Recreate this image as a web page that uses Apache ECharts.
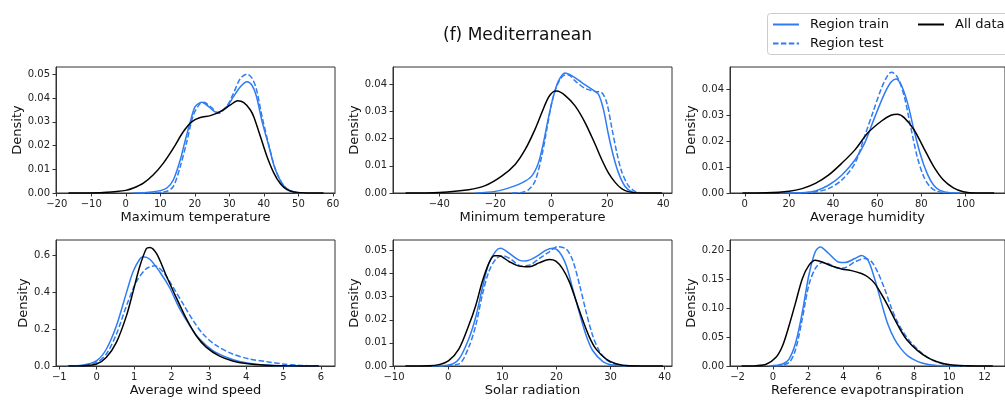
<!DOCTYPE html>
<html>
<head>
<meta charset="utf-8">
<script src="https://cdn.jsdelivr.net/npm/echarts@6/dist/echarts.min.js"></script>
<style>html,body{margin:0;padding:0;background:#fff}#c{width:1005px;height:401px}</style>
</head>
<body>
<div id="c"></div>
<script>
// ---------- DATA ----------
const chartTitle = '(f) Mediterranean';
const seriesNames = ['Region train', 'Region test', 'All data'];
const panelNames = ['Maximum temperature', 'Minimum temperature', 'Average humidity',
                    'Average wind speed', 'Solar radiation', 'Reference evapotranspiration'];

// x tick labels per panel
const xTicksMaxT = [-20, -10, 0, 10, 20, 30, 40, 50, 60];
const xTicksMinT = [-40, -20, 0, 20, 40];
const xTicksHum = [0, 20, 40, 60, 80, 100];
const xTicksWind = [-1, 0, 1, 2, 3, 4, 5, 6];
const xTicksSolar = [-10, 0, 10, 20, 30, 40];
const xTicksEt = [-2, 0, 2, 4, 6, 8, 10, 12];
// y tick labels per panel
const yTicksMaxT = [0, 0.01, 0.02, 0.03, 0.04, 0.05];
const yTicksMinT = [0, 0.01, 0.02, 0.03, 0.04];
const yTicksHum = [0, 0.01, 0.02, 0.03, 0.04];
const yTicksWind = [0, 0.2, 0.4, 0.6];
const yTicksSolar = [0, 0.01, 0.02, 0.03, 0.04, 0.05];
const yTicksEt = [0, 0.05, 0.10, 0.15, 0.20];

// Maximum temperature
const maxT_trainX = [2, 6, 10, 11.9, 13.8, 15.8, 17.2, 18.7, 20.1, 22, 24, 26.4, 29.3, 31.2, 33.2, 35.1, 36.5, 37.8, 39.5, 41.4, 43.3, 45.8, 48.7, 52];
const maxT_trainY = [0, 0.0002, 0.001, 0.0021, 0.0056, 0.014, 0.022, 0.03, 0.0364, 0.0382, 0.0364, 0.0339, 0.0364, 0.0406, 0.0448, 0.0469, 0.0455, 0.041, 0.03, 0.02, 0.01, 0.003, 0.0004, 0];
const maxT_testX = [4, 8, 11.9, 13.8, 15.8, 17.7, 19.6, 21.6, 22.6, 24.5, 26.9, 29.3, 31.2, 33.2, 35.1, 36.5, 37.8, 39.5, 41.4, 43.3, 45.8, 48.7, 52];
const maxT_testY = [0, 0.0001, 0.0007, 0.0028, 0.0112, 0.0217, 0.0329, 0.0378, 0.0382, 0.0364, 0.0336, 0.0367, 0.042, 0.0483, 0.0501, 0.0485, 0.044, 0.032, 0.0205, 0.0102, 0.003, 0.0004, 0];
const maxT_allX = [-16.6, -7.4, -2.6, 0, 2.2, 5.1, 8, 10.9, 13.8, 16.7, 19.2, 21.6, 24.5, 27.4, 30.3, 32.4, 34.2, 36.1, 37.1, 39, 40.9, 42.9, 44.8, 46.7, 48.7, 52.5, 57.3];
const maxT_allY = [0, 0.0001, 0.0006, 0.0011, 0.0021, 0.0042, 0.0077, 0.0126, 0.0189, 0.0259, 0.0301, 0.0318, 0.0326, 0.0343, 0.0371, 0.0389, 0.0381, 0.035, 0.032, 0.0238, 0.0154, 0.0084, 0.0039, 0.0014, 0.0004, 0.0000, 0];

// Minimum temperature
const minT_trainX = [-27, -20, -15.3, -10.5, -7, -4.6, -2.8, -1, 0.8, 2.6, 4.9, 7.3, 10.9, 14.4, 16.8, 18.6, 20.4, 22.2, 24, 26.3, 28.7, 31];
const minT_trainY = [0, 0.0006, 0.0018, 0.0037, 0.0062, 0.011, 0.0185, 0.0277, 0.0357, 0.0412, 0.0441, 0.0431, 0.0406, 0.0382, 0.0363, 0.0308, 0.0215, 0.0135, 0.0074, 0.0025, 0.0005, 0];
const minT_testX = [-14, -10.5, -8.1, -5.8, -3.4, -1.6, 0.2, 2, 4.3, 6.1, 8.5, 12.1, 15.7, 18, 19.8, 21.6, 23.4, 25.1, 27.5, 29.9, 32.2];
const minT_testY = [0, 0.0002, 0.0012, 0.0043, 0.0135, 0.0234, 0.0332, 0.0394, 0.0431, 0.0434, 0.0412, 0.0384, 0.0373, 0.0369, 0.0332, 0.024, 0.0148, 0.008, 0.0027, 0.0006, 0];
const minT_allX = [-52, -40, -29.5, -23.6, -17.7, -12.9, -9.3, -5.8, -3.4, -1, 0.8, 2, 4.9, 8.5, 12.1, 15.7, 18, 20.4, 22.8, 25.1, 27.5, 31, 39.5];
const minT_allY = [0, 0.0002, 0.0012, 0.0027, 0.0062, 0.0105, 0.016, 0.0234, 0.0295, 0.0351, 0.0373, 0.0375, 0.0359, 0.032, 0.0258, 0.0178, 0.0123, 0.0074, 0.0039, 0.0016, 0.0005, 0, 0];

// Average humidity
const hum_trainX = [15.6, 26, 32, 37.9, 43.9, 49.9, 54.3, 58.8, 63.2, 66.2, 68.5, 70.7, 73.7, 76.6, 79.6, 82.6, 85.6, 88.5, 93, 97.5];
const hum_trainY = [0, 0.0001, 0.0008, 0.003, 0.0069, 0.0128, 0.0193, 0.0292, 0.0383, 0.0429, 0.0442, 0.0422, 0.035, 0.0246, 0.0148, 0.0076, 0.003, 0.001, 0.0001, 0];
const hum_testX = [20, 32, 37.9, 43.9, 49.9, 54.3, 58, 61.8, 64.7, 66.5, 69.2, 72.2, 75.1, 78.1, 81.1, 84, 87, 91.5];
const hum_testY = [0, 0.0004, 0.0017, 0.005, 0.0115, 0.022, 0.0311, 0.0403, 0.0455, 0.0468, 0.0448, 0.0376, 0.0259, 0.0141, 0.0063, 0.0024, 0.0007, 0];
const hum_allX = [-1, 9.7, 20.1, 26, 32, 37.9, 43.9, 49.9, 55.8, 61.8, 66.2, 69.2, 72.2, 76.6, 81.1, 85.6, 90, 94.5, 99, 104.9, 113];
const hum_allY = [0, 0.0001, 0.0007, 0.0017, 0.0037, 0.0069, 0.0115, 0.0167, 0.0233, 0.0278, 0.0301, 0.0305, 0.0292, 0.0246, 0.0174, 0.0102, 0.005, 0.002, 0.0005, 0, 0];

// Average wind speed
const wind_trainX = [-0.8, -0.36, 0, 0.26, 0.53, 0.8, 0.97, 1.15, 1.24, 1.42, 1.69, 1.95, 2.22, 2.49, 2.75, 3.11, 3.47, 3.82, 4.27, 4.8, 5.42];
const wind_trainY = [0, 0.005, 0.029, 0.092, 0.219, 0.4, 0.509, 0.578, 0.591, 0.578, 0.509, 0.425, 0.31, 0.219, 0.147, 0.083, 0.047, 0.024, 0.009, 0.002, 0];
const wind_testX = [-0.54, 0, 0.26, 0.53, 0.8, 1.06, 1.33, 1.55, 1.78, 2.04, 2.31, 2.58, 2.84, 3.2, 3.64, 4.09, 4.53, 4.98, 5.42, 5.95];
const wind_testY = [0, 0.02, 0.065, 0.174, 0.328, 0.455, 0.527, 0.542, 0.509, 0.428, 0.337, 0.247, 0.174, 0.111, 0.065, 0.038, 0.024, 0.011, 0.004, 0];
const wind_allX = [-0.76, -0.36, 0, 0.26, 0.53, 0.8, 0.97, 1.15, 1.33, 1.42, 1.6, 1.86, 2.13, 2.4, 2.66, 2.93, 3.29, 3.64, 4, 4.53, 5.06, 5.95];
const wind_allY = [0, 0.002, 0.011, 0.047, 0.129, 0.274, 0.4, 0.537, 0.636, 0.642, 0.609, 0.49, 0.37, 0.256, 0.165, 0.102, 0.053, 0.027, 0.013, 0.004, 0.001, 0];

// Solar radiation
const solar_trainX = [-3, 0.1, 2, 3.8, 5.1, 6.3, 7.5, 8.8, 9.7, 11.3, 13.1, 14.3, 16.2, 18.1, 19.3, 20.5, 21.8, 23, 24.3, 25.5, 26.7, 28.6, 30.4, 32.9];
const solar_trainY = [0, 0.0004, 0.003, 0.0117, 0.0212, 0.0335, 0.0443, 0.0497, 0.0509, 0.0487, 0.0458, 0.0454, 0.0472, 0.0501, 0.0509, 0.0494, 0.0436, 0.0335, 0.0226, 0.0132, 0.0067, 0.0019, 0.0004, 0];
const solar_testX = [-1.7, 2, 3.8, 5.1, 6.3, 7.5, 8.8, 10, 11.6, 13.4, 15, 16.8, 18.7, 20.2, 21.8, 23, 24.3, 25.5, 26.7, 27.9, 29.2, 31, 33.5];
const solar_testY = [0, 0.0009, 0.0081, 0.0175, 0.0306, 0.0407, 0.0462, 0.0477, 0.0462, 0.0433, 0.0436, 0.0464, 0.0494, 0.0516, 0.0506, 0.0458, 0.0349, 0.0233, 0.0132, 0.0067, 0.0028, 0.0006, 0];
const solar_allX = [-7.9, -3.6, -1.7, 0.1, 2, 3.8, 5.1, 6.3, 7.5, 8.5, 9.4, 11.3, 13.1, 15, 16.8, 18.7, 19.9, 21.1, 22.4, 23.6, 24.9, 26.1, 27.3, 29.2, 31, 33.5, 39.7];
const solar_allY = [0, 0.0001, 0.0006, 0.0023, 0.0074, 0.0175, 0.0262, 0.0364, 0.0443, 0.0477, 0.0477, 0.0451, 0.0432, 0.0429, 0.0446, 0.0461, 0.0454, 0.0422, 0.0364, 0.0284, 0.0197, 0.0125, 0.0074, 0.003, 0.001, 0.0001, 0];

// Reference evapotranspiration
const et_trainX = [-0.2, 0.55, 0.92, 1.3, 1.67, 2.04, 2.41, 2.69, 3.15, 3.71, 4.09, 4.65, 5.02, 5.39, 5.77, 6.14, 6.51, 6.89, 7.26, 7.63, 8.19, 8.75, 9.5, 10.24];
const et_trainY = [0, 0.0035, 0.012, 0.041, 0.093, 0.157, 0.198, 0.206, 0.195, 0.18, 0.179, 0.186, 0.191, 0.183, 0.151, 0.111, 0.073, 0.047, 0.03, 0.018, 0.008, 0.003, 0.0005, 0];
const et_testX = [0.18, 0.92, 1.3, 1.67, 2.04, 2.41, 2.79, 3.15, 3.71, 4.09, 4.65, 5.21, 5.58, 5.95, 6.33, 6.7, 7.07, 7.45, 7.82, 8.38, 8.93, 9.5, 10.24, 10.98];
const et_testY = [0, 0.006, 0.03, 0.082, 0.14, 0.169, 0.179, 0.177, 0.169, 0.17, 0.18, 0.186, 0.181, 0.162, 0.134, 0.102, 0.076, 0.056, 0.041, 0.024, 0.012, 0.0046, 0.0007, 0];
const et_allX = [-1.78, -0.94, -0.38, 0.18, 0.55, 0.92, 1.3, 1.67, 2.04, 2.41, 2.79, 3.34, 3.9, 4.46, 5.02, 5.39, 5.77, 6.14, 6.51, 6.89, 7.26, 7.63, 8.19, 8.75, 9.31, 10.05, 10.98, 12.47];
const et_allY = [0, 0.0006, 0.003, 0.015, 0.035, 0.07, 0.111, 0.151, 0.174, 0.183, 0.18, 0.173, 0.168, 0.165, 0.16, 0.154, 0.143, 0.125, 0.105, 0.082, 0.061, 0.044, 0.027, 0.015, 0.0075, 0.002, 0.0005, 0];

// ---------- LAYOUT / STYLE ----------
const FONT = 'DejaVu Sans';
const BLUE = '#2f7cf2';
const AXC = '#333333';
const zip = (xs, ys) => xs.map((x, i) => [x, ys[i]]);

const panels = [
  {x: [-20.2, 60.6], y: [0, 0.0531], xt: xTicksMaxT, yt: yTicksMaxT, yd: 2,
   d: [[maxT_trainX, maxT_trainY], [maxT_testX, maxT_testY], [maxT_allX, maxT_allY]]},
  {x: [-56.5, 43.1], y: [0, 0.0463], xt: xTicksMinT, yt: yTicksMinT, yd: 2,
   d: [[minT_trainX, minT_trainY], [minT_testX, minT_testY], [minT_allX, minT_allY]]},
  {x: [-6.7, 117.9], y: [0, 0.0488], xt: xTicksHum, yt: yTicksHum, yd: 2,
   d: [[hum_trainX, hum_trainY], [hum_testX, hum_testY], [hum_allX, hum_allY]]},
  {x: [-1.09, 6.38], y: [0, 0.682], xt: xTicksWind, yt: yTicksWind, yd: 1,
   d: [[wind_trainX, wind_trainY], [wind_testX, wind_testY], [wind_allX, wind_allY]]},
  {x: [-10.19, 41.36], y: [0, 0.0545], xt: xTicksSolar, yt: yTicksSolar, yd: 2,
   d: [[solar_trainX, solar_trainY], [solar_testX, solar_testY], [solar_allX, solar_allY]]},
  {x: [-2.43, 13.16], y: [0, 0.218], xt: xTicksEt, yt: yTicksEt, yd: 2,
   d: [[et_trainX, et_trainY], [et_testX, et_testY], [et_allX, et_allY]]}
];
const lefts = [56, 393, 730];
const tops = [67, 240];
const W = 279, H = 126;

const grid = [], xAxis = [], yAxis = [], series = [];
const styles = [
  {color: BLUE, type: 'solid'},
  {color: BLUE, type: [5.5, 2.4]},
  {color: '#000000', type: 'solid'}
];
panels.forEach((p, i) => {
  const col = i % 3, row = Math.floor(i / 3);
  grid.push({left: lefts[col], top: tops[row], width: W, height: H,
    show: true, borderColor: AXC, borderWidth: 1, backgroundColor: 'transparent'});
  xAxis.push({type: 'value', gridIndex: i, min: p.x[0], max: p.x[1],
    name: panelNames[i], nameLocation: 'middle', nameGap: 18,
    nameTextStyle: {fontFamily: FONT, fontSize: 13, color: '#111'},
    axisLine: {show: true, onZero: false, lineStyle: {color: AXC, width: 1}},
    axisTick: {show: true, customValues: p.xt, length: 3.5, lineStyle: {color: AXC, width: 1}},
    axisLabel: {customValues: p.xt, fontFamily: FONT, fontSize: 10, color: '#222', margin: 6,
      formatter: v => String(v).replace('-', '\u2212')},
    splitLine: {show: false}});
  yAxis.push({type: 'value', gridIndex: i, min: p.y[0], max: p.y[1],
    name: 'Density', nameLocation: 'middle', nameGap: (i === 3 ? 26 : 30),
    nameTextStyle: {fontFamily: FONT, fontSize: 13, color: '#111'},
    axisLine: {show: true, onZero: false, lineStyle: {color: AXC, width: 1}},
    axisTick: {show: true, customValues: p.yt, length: 3.5, lineStyle: {color: AXC, width: 1}},
    axisLabel: {customValues: p.yt, fontFamily: FONT, fontSize: 10, color: '#222', margin: 6,
      formatter: v => Number(v).toFixed(p.yd)},
    splitLine: {show: false}});
  p.d.forEach((xy, k) => {
    series.push({type: 'line', name: seriesNames[k], xAxisIndex: i, yAxisIndex: i,
      data: zip(xy[0], xy[1]), showSymbol: false, symbol: 'none', smooth: 0.3,
      lineStyle: {color: styles[k].color, width: 1.5, type: styles[k].type},
      itemStyle: {color: styles[k].color}, z: 2 + k});
  });
});

const legendCommon = {orient: 'vertical', top: 18, padding: 0,
  itemWidth: 26, itemHeight: 14, itemGap: 6,
  itemStyle: {color: 'rgba(0,0,0,0)', borderWidth: 0, opacity: 0},
  textStyle: {fontFamily: FONT, fontSize: 13, color: '#111', padding: [0, 0, 0, 6]}};

const chart = echarts.init(document.getElementById('c'), null, {renderer: 'canvas'});
chart.setOption({
  animation: false,
  backgroundColor: '#ffffff',
  title: {text: chartTitle, left: 443, top: 27, padding: 0,
    textStyle: {fontFamily: FONT, fontSize: 17, fontWeight: 'normal', color: '#111'}},
  legend: [
    Object.assign({data: ['Region train', 'Region test'], left: 772}, legendCommon),
    Object.assign({data: ['All data'], left: 917}, legendCommon)
  ],
  graphic: [{type: 'rect', shape: {x: 767.5, y: 13.5, width: 260, height: 41, r: 3}, z: -1,
    style: {fill: 'rgba(255,255,255,0.8)', stroke: '#cccccc', lineWidth: 1}}],
  grid, xAxis, yAxis, series
});
</script>
</body>
</html>
